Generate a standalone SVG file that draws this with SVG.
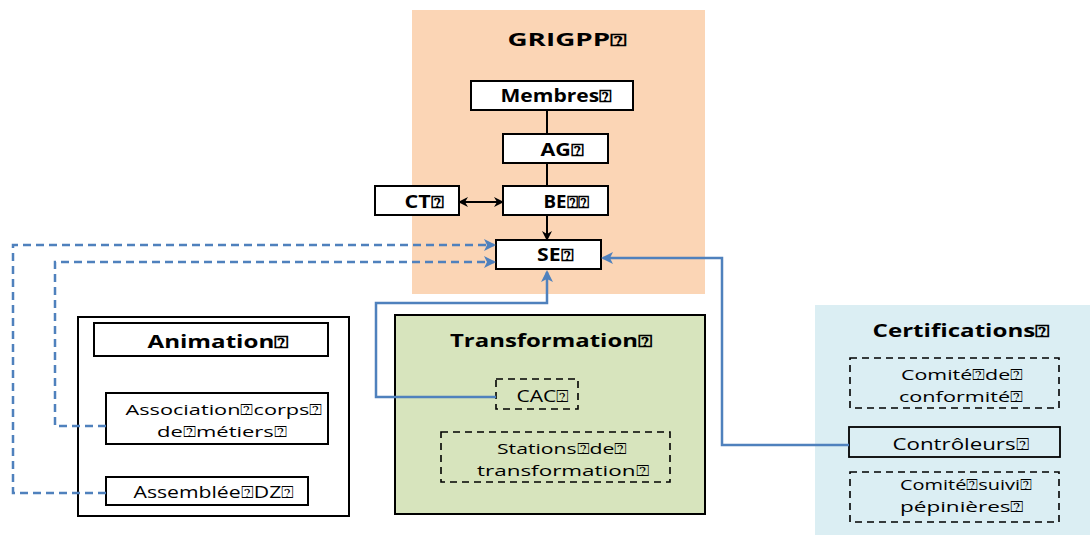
<svg xmlns="http://www.w3.org/2000/svg" width="1090" height="535" viewBox="0 0 1090 535">
<defs>
<style>
.t{font-family:"Open Sans","Liberation Sans",sans-serif;fill:#000;text-anchor:middle;font-size:16px}
.s{font-size:15px}
.b{font-weight:bold;font-size:17px}
.box{fill:#fff;stroke:#000;stroke-width:2}
.dash{fill:none;stroke:#000;stroke-width:1.6;stroke-dasharray:7,5}
.blk{stroke:#000;stroke-width:2;fill:none}
.blu{stroke:#4F81BD;stroke-width:2.5;fill:none}
.bld{stroke:#4F81BD;stroke-width:2.5;fill:none;stroke-dasharray:8,5}
</style>
<marker id="ak" markerWidth="10" markerHeight="10" refX="8" refY="5" orient="auto-start-reverse" markerUnits="userSpaceOnUse"><path d="M0,0 L10,5 L0,10 L3,5 Z" fill="#000"/></marker>
<marker id="ab" markerWidth="12" markerHeight="12" refX="10" refY="6" orient="auto" markerUnits="userSpaceOnUse"><path d="M0,0 L12,6 L0,12 L3,6 Z" fill="#4F81BD"/></marker>
</defs>
<g id="grigpp">
<rect x="412" y="10" width="293" height="284" fill="#FBD5B5"/>
<text class="t b" x="567" y="46" textLength="119" lengthAdjust="spacingAndGlyphs">GRIGPP⍰</text>
</g>
<g id="membres"><rect class="box" x="471" y="81" width="162" height="29"/><text class="t b" x="556" y="102" textLength="111" lengthAdjust="spacingAndGlyphs">Membres⍰</text></g>
<g id="ag"><rect class="box" x="503" y="134" width="105" height="29"/><text class="t b" x="562" y="156" textLength="43" lengthAdjust="spacingAndGlyphs">AG⍰</text></g>
<g id="be"><rect class="box" x="503" y="186" width="105" height="29"/><text class="t b" x="566" y="208" textLength="45" lengthAdjust="spacingAndGlyphs">BE⍰⍰</text></g>
<g id="ct"><rect class="box" x="375" y="186" width="84" height="29"/><text class="t b" x="424" y="208" textLength="39" lengthAdjust="spacingAndGlyphs">CT⍰</text></g>
<g id="se"><rect class="box" x="496" y="240" width="105" height="29"/><text class="t b" x="555" y="261" textLength="36" lengthAdjust="spacingAndGlyphs">SE⍰</text></g>
<g id="animation">
<rect x="78" y="317" width="271" height="199" fill="#fff" stroke="#000" stroke-width="2"/>
<rect class="box" x="94" y="323" width="234" height="33"/>
<text class="t b" x="218" y="348" textLength="141" lengthAdjust="spacingAndGlyphs">Animation⍰</text>
</g>
<g id="association"><rect class="box" x="106" y="393" width="222" height="51"/><text class="t s" x="224" y="415" textLength="197" lengthAdjust="spacingAndGlyphs">Association⍰corps⍰</text><text class="t s" x="222" y="437" textLength="130" lengthAdjust="spacingAndGlyphs">de⍰métiers⍰</text></g>
<g id="assemblee"><rect class="box" x="106" y="477" width="202" height="28"/><text class="t" x="214" y="498" textLength="161" lengthAdjust="spacingAndGlyphs">Assemblée⍰DZ⍰</text></g>
<g id="transformation">
<rect x="395" y="315" width="310" height="199" fill="#D7E4BD" stroke="#000" stroke-width="2"/>
<text class="t b" x="551" y="347" textLength="202" lengthAdjust="spacingAndGlyphs">Transformation⍰</text>
</g>
<g id="cac"><rect class="dash" x="496" y="379" width="82" height="30"/><text class="t" x="543" y="402" textLength="53" lengthAdjust="spacingAndGlyphs">CAC⍰</text></g>
<g id="stations"><rect class="dash" x="441" y="432" width="229" height="50"/><text class="t s" x="562" y="454" textLength="130" lengthAdjust="spacingAndGlyphs">Stations⍰de⍰</text><text class="t s" x="563" y="476" textLength="172" lengthAdjust="spacingAndGlyphs">transformation⍰</text></g>
<g id="certifications">
<rect x="815" y="305" width="275" height="230" fill="#DBEEF3"/>
<text class="t b" x="961" y="337" textLength="177" lengthAdjust="spacingAndGlyphs">Certifications⍰</text>
</g>
<g id="conformite"><rect class="dash" x="850" y="358" width="209" height="50"/><text class="t s" x="962" y="380" textLength="122" lengthAdjust="spacingAndGlyphs">Comité⍰de⍰</text><text class="t s" x="961" y="402" textLength="124" lengthAdjust="spacingAndGlyphs">conformité⍰</text></g>
<g id="controleurs"><rect x="849" y="427" width="211" height="30" fill="none" stroke="#000" stroke-width="1.8"/><text class="t" x="961" y="450" textLength="137" lengthAdjust="spacingAndGlyphs">Contrôleurs⍰</text></g>
<g id="suivi"><rect class="dash" x="850" y="472" width="209" height="50"/><text class="t s" x="966" y="490" textLength="132" lengthAdjust="spacingAndGlyphs">Comité⍰suivi⍰</text><text class="t s" x="962" y="512" textLength="124" lengthAdjust="spacingAndGlyphs">pépinières⍰</text></g>
<g id="connectors">
<line class="blk" x1="547" y1="110" x2="547" y2="134"/>
<line class="blk" x1="547" y1="163" x2="547" y2="186"/>
<line class="blk" x1="547" y1="215" x2="547" y2="239" marker-end="url(#ak)"/>
<line class="blk" x1="460" y1="202" x2="502" y2="202" marker-start="url(#ak)" marker-end="url(#ak)"/>
<polyline class="bld" points="106,493 13,493 13,245 494,245" marker-end="url(#ab)"/>
<polyline class="bld" points="106,426 55,426 55,262 494,262" marker-end="url(#ab)"/>
<polyline class="blu" points="496,397 376,397 376,303 547,303 547,272" marker-end="url(#ab)"/>
<polyline class="blu" points="849,445 722,445 722,258 603,258" marker-end="url(#ab)"/>
</g>
</svg>
